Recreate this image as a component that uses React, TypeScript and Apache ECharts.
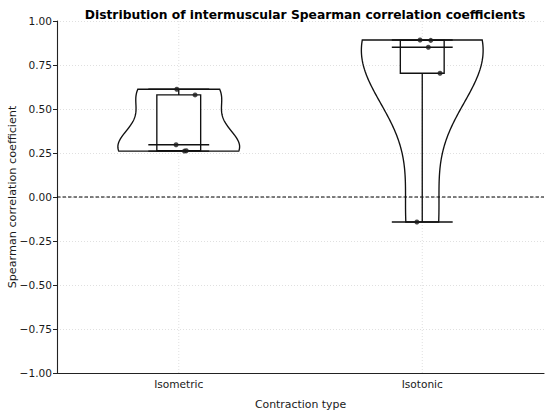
import React, { useEffect, useRef } from "react";
import * as echarts from "echarts";

const categories = ["Isometric", "Isotonic"];
const isometricValues = [0.612, 0.58, 0.297, 0.263, 0.261];
const isotonicValues = [0.892, 0.89, 0.851, 0.703, -0.142];
const isometricJitter = [-0.008, 0.067, -0.011, 0.031, 0.023];
const isotonicJitter = [-0.009, 0.035, 0.025, 0.073, -0.022];
const yTicks = [-1, -0.75, -0.5, -0.25, 0, 0.25, 0.5, 0.75, 1];

const groups = [isometricValues, isotonicValues];
const jitters = [isometricJitter, isotonicJitter];

const FONT = "DejaVu Sans";

function quantile(sorted: number[], p: number) {
  const pos = (sorted.length - 1) * p;
  const lo = Math.floor(pos);
  const hi = Math.ceil(pos);
  return sorted[lo] + (sorted[hi] - sorted[lo]) * (pos - lo);
}

// Gaussian KDE with Scott's rule (as matplotlib violinplot)
function violinProfile(data: number[]) {
  const n = data.length;
  const mean = data.reduce((a, b) => a + b, 0) / n;
  const variance = data.reduce((a, b) => a + (b - mean) ** 2, 0) / (n - 1);
  const bw = Math.sqrt(variance) * Math.pow(n, -1 / 5);
  const mn = Math.min(...data);
  const mx = Math.max(...data);
  const steps = 100;
  const ys: number[] = [];
  const dens: number[] = [];
  for (let i = 0; i < steps; i++) {
    const y = mn + ((mx - mn) * i) / (steps - 1);
    let d = 0;
    for (const v of data) d += Math.exp(-0.5 * ((y - v) / bw) ** 2);
    ys.push(y);
    dens.push(d);
  }
  const maxD = Math.max(...dens);
  return ys.map((y, i) => [y, (dens[i] / maxD) * 0.25]);
}

const stats = groups.map((g) => {
  const s = [...g].sort((a, b) => a - b);
  return {
    min: s[0],
    max: s[s.length - 1],
    q1: quantile(s, 0.25),
    med: quantile(s, 0.5),
    q3: quantile(s, 0.75),
    profile: violinProfile(g),
  };
});

const fmt = (v: number) => v.toFixed(2).replace("-", "\u2212");

export default function App() {
  const ref = useRef<HTMLDivElement>(null);
  useEffect(() => {
    document.body.style.margin = "0";
    if (!ref.current) return;
    const chart = echarts.init(ref.current, undefined, { renderer: "svg" });
    const LW = 1.35;
    const INK = "#111111";
    const GRID = "#d8d8d8";
    const option: any = {
      animation: false,
      backgroundColor: "#ffffff",
      title: {
        text: "Distribution of intermuscular Spearman correlation coefficients",
        left: 300,
        top: 4,
        textAlign: "center",
        textStyle: { fontFamily: FONT, fontWeight: "bold", fontSize: 12.3, color: "#000" },
      },
      graphic: [
        {
          type: "text",
          x: 12,
          y: 197,
          rotation: Math.PI / 2,
          style: {
            text: "Spearman correlation coefficient",
            fontFamily: FONT,
            fontSize: 11.2,
            fill: "#1a1a1a",
            textAlign: "center",
            textVerticalAlign: "middle",
          },
        },
      ],
      grid: { left: 57, right: 6, top: 21, bottom: 37, containLabel: false, outerBoundsMode: "none" },
      xAxis: [
        {
          type: "category",
          data: categories,
          boundaryGap: true,
          axisLine: { onZero: false, lineStyle: { color: "#222", width: 1.1 } },
          axisTick: { alignWithLabel: true, length: 4, lineStyle: { color: "#222" } },
          axisLabel: { fontFamily: FONT, fontSize: 10.6, color: "#1a1a1a", margin: 5 },
          splitLine: { show: false },
          name: "Contraction type",
          nameLocation: "middle",
          nameGap: 26,
          nameTextStyle: { fontFamily: FONT, fontSize: 10.9, color: "#1a1a1a" },
        },
        { type: "value", min: -0.5, max: 1.5, show: false, axisLine: { onZero: false } },
      ],
      yAxis: {
        type: "value",
        min: -1,
        max: 1,
        interval: 0.25,
        axisLine: { show: true, onZero: false, lineStyle: { color: "#222", width: 1.1 } },
        axisTick: { show: true, length: 4, lineStyle: { color: "#222" } },
        axisLabel: { fontFamily: FONT, fontSize: 10.6, color: "#1a1a1a", margin: 5, formatter: fmt },
        splitLine: { show: true, lineStyle: { color: GRID, type: [1, 2], width: 0.8 } },
      },
      series: [
        {
          type: "custom",
          xAxisIndex: 1,
          yAxisIndex: 0,
          z: 1,
          silent: true,
          data: [[0]],
          renderItem: (params: any, api: any) => {
            const vLine = (x: number) => {
              const a = api.coord([x, -1]);
              const b = api.coord([x, 1]);
              return {
                type: "line",
                shape: { x1: a[0], y1: a[1], x2: b[0], y2: b[1] },
                style: { stroke: GRID, lineWidth: 0.8, lineDash: [1, 2] },
              };
            };
            const z1 = api.coord([-0.5, 0]);
            const z2 = api.coord([1.5, 0]);
            return {
              type: "group",
              children: [
                vLine(0),
                vLine(1),
                {
                  type: "line",
                  shape: { x1: z1[0], y1: z1[1], x2: z2[0], y2: z2[1] },
                  style: { stroke: "#000", lineWidth: 1.15, lineDash: [3.5, 2] },
                },
              ],
            };
          },
        },
        {
          type: "custom",
          xAxisIndex: 1,
          yAxisIndex: 0,
          z: 2,
          data: categories.map((_, i) => [i]),
          renderItem: (params: any, api: any) => {
            const i = api.value(0);
            const st = stats[i];
            const left = st.profile.map(([y, w]) => api.coord([i - w, y]));
            const right = st.profile
              .slice()
              .reverse()
              .map(([y, w]) => api.coord([i + w, y]));
            const pts = left.concat(right);
            const solid = { stroke: INK, lineWidth: LW, lineDash: "solid" };
            const hLine = (y: number, hw: number) => {
              const a = api.coord([i - hw, y]);
              const b = api.coord([i + hw, y]);
              return {
                type: "line",
                shape: { x1: a[0], y1: a[1], x2: b[0], y2: b[1] },
                style: { ...solid },
              };
            };
            const c1 = api.coord([i, st.min]);
            const c2 = api.coord([i, st.max]);
            const b1 = api.coord([i - 0.09, st.q3]);
            const b2 = api.coord([i + 0.09, st.q1]);
            return {
              type: "group",
              children: [
                {
                  type: "polygon",
                  shape: { points: pts },
                  style: { fill: "none", ...solid },
                },
                {
                  type: "line",
                  shape: { x1: c1[0], y1: c1[1], x2: c2[0], y2: c2[1] },
                  style: { ...solid },
                },
                {
                  type: "rect",
                  shape: { x: b1[0], y: b1[1], width: b2[0] - b1[0], height: b2[1] - b1[1] },
                  style: { fill: "#ffffff", ...solid },
                },
                hLine(st.med, 0.125),
                hLine(st.min, 0.125),
                hLine(st.max, 0.125),
              ],
            };
          },
        },
        {
          type: "scatter",
          xAxisIndex: 1,
          yAxisIndex: 0,
          symbolSize: 5,
          itemStyle: { color: "#1a1a1a" },
          data: groups.flatMap((g, i) => g.map((v, k) => [i + jitters[i][k], v])),
          z: 5,
        },
      ],
    };
    chart.setOption(option);
    return () => chart.dispose();
  }, []);
  return <div ref={ref} style={{ width: 550, height: 410 }} />;
}
